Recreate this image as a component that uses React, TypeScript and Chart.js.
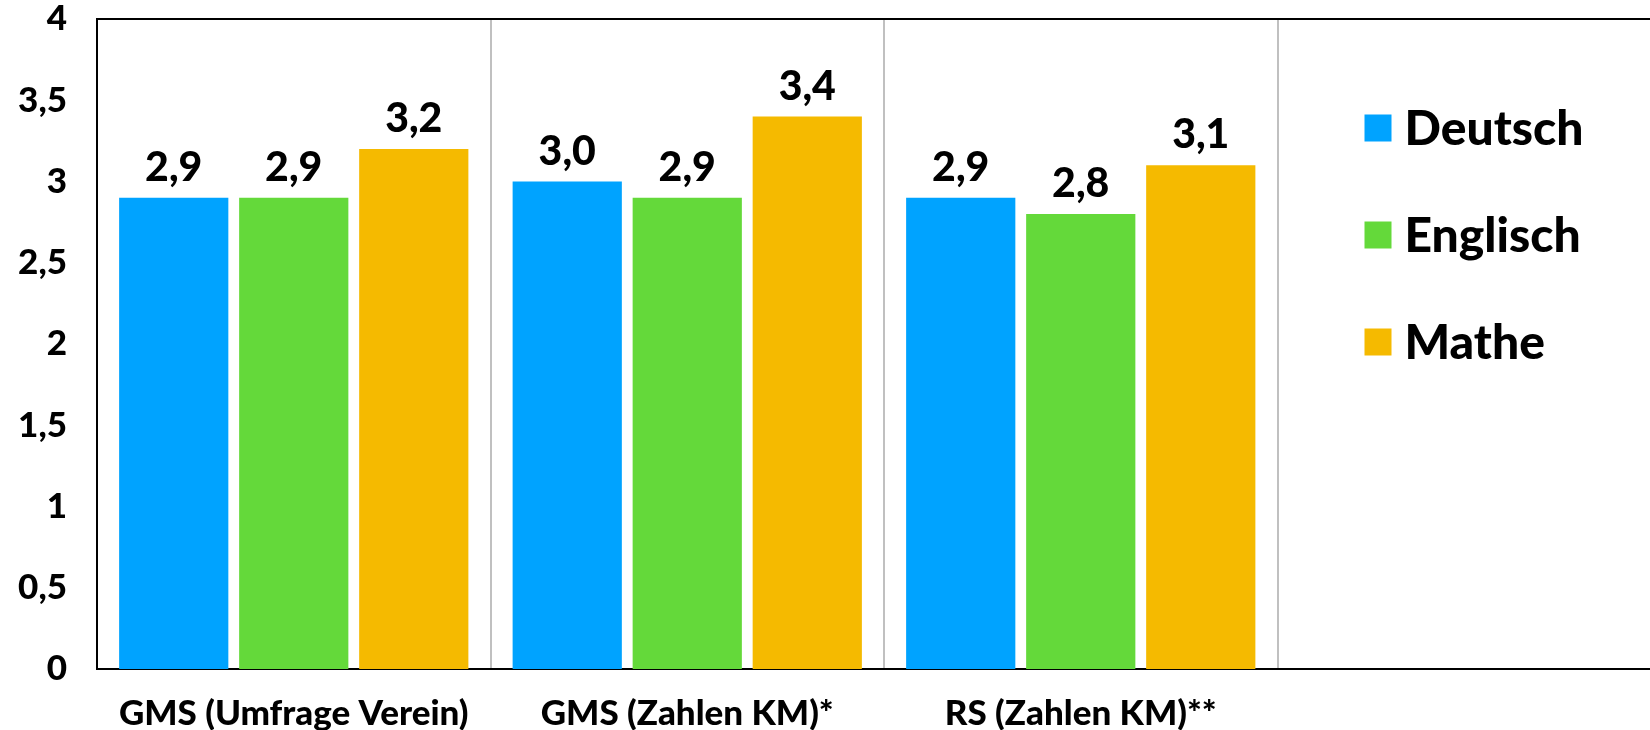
import React, { useEffect, useRef } from "react";
import { Chart, registerables } from "chart.js";

Chart.register(...registerables);

const categories = ["GMS (Umfrage Verein)", "GMS (Zahlen KM)*", "RS (Zahlen KM)**", ""];
const seriesNames = ["Deutsch", "Englisch", "Mathe"];
const deutsch = [2.9, 3.0, 2.9, null];
const englisch = [2.9, 2.9, 2.8, null];
const mathe = [3.2, 3.4, 3.1, null];
const seriesColors = ["#00A3FF", "#64D93A", "#F5BA00"];
const yMin = 0;
const yMax = 4;
const yStep = 0.5;

const FONT = "Lato, 'Open Sans', sans-serif";
const W = 900;

const fmt = (v: number, decimals?: number) =>
  (decimals !== undefined ? v.toFixed(decimals) : String(v)).replace(".", ",");

const topBorderPlugin = {
  id: "topBorder",
  afterDraw(chart: any) {
    const { ctx, chartArea } = chart;
    ctx.save();
    ctx.strokeStyle = "#000";
    ctx.lineWidth = 2;
    ctx.beginPath();
    ctx.moveTo(chartArea.left - 1, chartArea.top);
    ctx.lineTo(chartArea.right, chartArea.top);
    ctx.stroke();
    ctx.restore();
  },
};

const valueLabelPlugin = {
  id: "valueLabels",
  afterDatasetsDraw(chart: any) {
    const { ctx } = chart;
    ctx.save();
    ctx.fillStyle = "#000";
    ctx.font = `${W} 41px ${FONT}`;
    ctx.textAlign = "center";
    ctx.textBaseline = "alphabetic";
    chart.data.datasets.forEach((ds: any, i: number) => {
      const meta = chart.getDatasetMeta(i);
      meta.data.forEach((el: any, j: number) => {
        const v = ds.data[j];
        if (v === null || v === undefined) return;
        ctx.fillText(fmt(v, 1), el.x, el.y - 17);
      });
    });
    ctx.restore();
  },
};

const legendPlugin = {
  id: "innerLegend",
  afterDraw(chart: any) {
    const { ctx, chartArea } = chart;
    const xs = chart.scales.x;
    const step = xs.getPixelForValue(1) - xs.getPixelForValue(0);
    const boundary = xs.getPixelForValue(3) - step / 2;
    const sqX = boundary + 87;
    ctx.save();
    chart.data.datasets.forEach((ds: any, i: number) => {
      const cy = chartArea.top + 109 + i * 107;
      ctx.fillStyle = ds.backgroundColor;
      ctx.fillRect(sqX, cy - 13.5, 27, 27);
      ctx.fillStyle = "#000";
      ctx.font = `${W} 48px ${FONT}`;
      ctx.textAlign = "left";
      ctx.textBaseline = "middle";
      ctx.fillText(ds.label, sqX + 40, cy + 2);
    });
    ctx.restore();
  },
};

export default function App() {
  const ref = useRef<HTMLCanvasElement | null>(null);

  useEffect(() => {
    if (!ref.current) return;
    const seriesData = [deutsch, englisch, mathe];
    const chart = new Chart(ref.current, {
      type: "bar",
      data: {
        labels: categories,
        datasets: seriesNames.map((name, i) => ({
          label: name,
          data: seriesData[i],
          backgroundColor: seriesColors[i],
          borderWidth: 0,
          categoryPercentage: 0.915,
          barPercentage: 0.91,
        })),
      },
      options: {
        responsive: false,
        animation: false,
        devicePixelRatio: 1,
        layout: { padding: { top: 19, right: 5, left: 0, bottom: 0 } },
        plugins: {
          legend: { display: false },
          tooltip: { enabled: false },
        },
        scales: {
          x: {
            offset: true,
            grid: {
              display: true,
              offset: true,
              color: "#c0c0c0",
              lineWidth: 2,
              drawTicks: false,
            },
            border: { display: true, color: "#000", width: 2 },
            ticks: {
              color: "#000",
              font: { family: FONT, size: 35, weight: W },
              padding: 24,
              maxRotation: 0,
              autoSkip: false,
            },
            afterFit(scale: any) {
              scale.height = 61;
              scale.paddingLeft = 0;
              scale.paddingRight = 0;
            },
          },
          y: {
            min: yMin,
            max: yMax,
            grid: { display: false, drawTicks: false },
            border: { display: true, color: "#000", width: 2 },
            ticks: {
              stepSize: yStep,
              color: "#000",
              padding: 30,
              font: { family: FONT, size: 35, weight: W },
              callback: (v: any) => fmt(Number(v)),
            },
            afterFit(scale: any) {
              scale.width = 97;
              scale.paddingTop = 0;
              scale.paddingBottom = 0;
            },
          },
        },
      },
      plugins: [topBorderPlugin, valueLabelPlugin, legendPlugin],
    });
    return () => chart.destroy();
  }, []);

  return (
    <div
      style={{
        position: "fixed",
        left: 0,
        top: 0,
        width: 1650,
        height: 730,
        overflow: "hidden",
        background: "#fff",
      }}
    >
      <canvas ref={ref} width={1676} height={730} style={{ display: "block" }} />
    </div>
  );
}
